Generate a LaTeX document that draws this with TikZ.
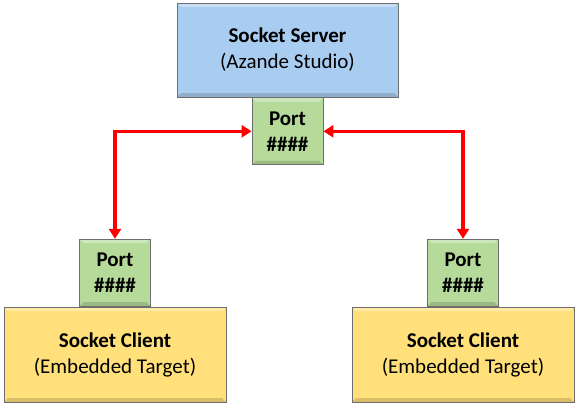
\documentclass[tikz,border=0pt]{standalone}
\usepackage{fontspec}
\setmainfont{Carlito}
\usetikzlibrary{positioning, arrows.meta}

\definecolor{serverblue}{HTML}{A9CDF0}
\definecolor{portgreen}{HTML}{B5DA9A}
\definecolor{clientyellow}{HTML}{FFE07A}
\definecolor{edgegray}{HTML}{6E6E6E}

\tikzset{
    box/.style={draw=edgegray, line width=0.8pt, inner sep=0pt, align=center,
        font=\fontsize{21}{26}\selectfont,
        path picture={
            \fill[white, opacity=0.35] (path picture bounding box.north west) --
                (path picture bounding box.north east) -- ++(-4,-4) -| ([shift={(4,-4)}]path picture bounding box.north west) -- cycle;
            \fill[black, opacity=0.15] (path picture bounding box.south west) --
                (path picture bounding box.south east) -- ++(-4,4) -| ([shift={(4,4)}]path picture bounding box.south west) -- cycle;
        }},
    serverbox/.style={box, fill=serverblue, minimum width=221pt, minimum height=94pt},
    clientbox/.style={box, fill=clientyellow, minimum width=222pt, minimum height=95pt},
    portbox/.style={box, fill=portgreen, minimum width=71pt, minimum height=67pt},
    link/.style={red, line width=3.5pt,
        {Triangle[width=12pt,length=10pt]}-{Triangle[width=12pt,length=10pt]}}
}

\begin{document}
\begin{tikzpicture}[x=1pt, y=1pt]
    \useasboundingbox (0,0) rectangle (577,-404);

    % Server side
    \node[serverbox] (server) at (287.5,-50) {\textbf{Socket Server}\\(Azande Studio)};
    \node[portbox, below=0pt of server] (sport) {\textbf{Port}\\\textbf{\#\#\#\#}};

    % Clients
    \node[clientbox] (lclient) at (115,-354.5) {\textbf{Socket Client}\\(Embedded Target)};
    \node[portbox, above=0pt of lclient] (lport) {\textbf{Port}\\\textbf{\#\#\#\#}};

    \node[clientbox] (rclient) at (463,-354.5) {\textbf{Socket Client}\\(Embedded Target)};
    \node[portbox, above=0pt of rclient] (rport) {\textbf{Port}\\\textbf{\#\#\#\#}};

    % Connections
    \draw[link] (sport.west) -| (lport.north);
    \draw[link] (sport.east) -| (rport.north);
\end{tikzpicture}
\end{document}
